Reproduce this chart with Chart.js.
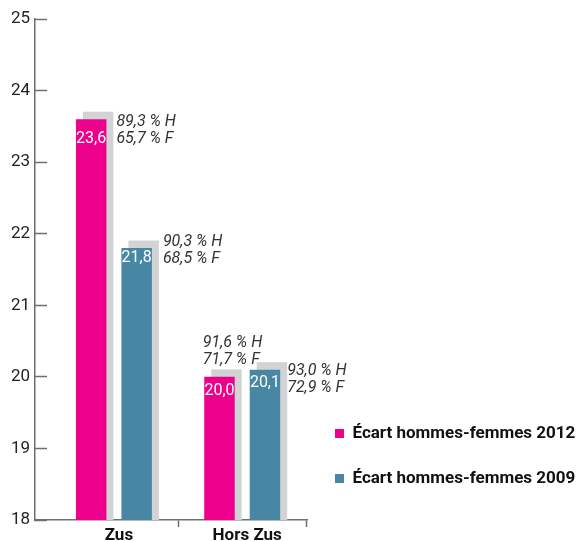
<!DOCTYPE html>
<html>
<head>
<meta charset="utf-8">
<script src="https://cdn.jsdelivr.net/npm/chart.js@4"></script>
<style>
  html, body { margin: 0; padding: 0; background: #fff; }
  #wrap { width: 577px; height: 541px; position: relative; }
</style>
</head>
<body>
<div id="wrap"><canvas id="c"></canvas></div>
<script>
// ---- data ----
const categories = ['Zus', 'Hors Zus'];
const seriesNames = ['Écart hommes-femmes 2012', 'Écart hommes-femmes 2009'];
const gap2012 = [23.6, 20.0];
const gap2009 = [21.8, 20.1];
const menRate2012 = [89.3, 91.6];
const womenRate2012 = [65.7, 71.7];
const menRate2009 = [90.3, 93.0];
const womenRate2009 = [68.5, 72.9];
const yTickValues = [18, 19, 20, 21, 22, 23, 24, 25];

// ---- styles ----
const PINK = '#EC008C';
const TEAL = '#4787A3';
const SHADOW = '#D1D3D4';
const AXIS = '#6D6E71';
const SH_DX = 7, SH_DY = 7.5;
// note placement: [dataset][category] = [dx from bar right edge, dy of first line baseline from bar top]
const noteOffset = [[[10, 7], [-32, -30]], [[11, -2], [7, 5]]];
const valueDy = [[24, 18], [14, 17]];

const fmt = v => v.toFixed(1).replace('.', ',');
const notes = [
  [menRate2012, womenRate2012],
  [menRate2009, womenRate2009]
];

Chart.defaults.font.family = 'Roboto, "Liberation Sans", sans-serif';

const shadowPlugin = {
  id: 'barShadow',
  beforeDatasetsDraw(chart) {
    const ctx = chart.ctx;
    const bottom = chart.chartArea.bottom;
    ctx.save();
    ctx.fillStyle = SHADOW;
    chart.data.datasets.forEach((ds, i) => {
      chart.getDatasetMeta(i).data.forEach(bar => {
        const p = bar.getProps(['x', 'y', 'base', 'width'], true);
        const base = Math.min(p.base, bottom);
        ctx.fillRect(p.x - p.width / 2 + SH_DX, p.y - SH_DY, p.width, base - p.y + SH_DY);
      });
    });
    ctx.restore();
  }
};

const labelPlugin = {
  id: 'barLabels',
  afterDatasetsDraw(chart) {
    const ctx = chart.ctx;
    ctx.save();
    chart.data.datasets.forEach((ds, i) => {
      chart.getDatasetMeta(i).data.forEach((bar, j) => {
        const p = bar.getProps(['x', 'y', 'width'], true);
        // value inside bar
        ctx.fillStyle = '#FFFFFF';
        ctx.font = '16px Roboto, sans-serif';
        ctx.textAlign = 'center';
        ctx.textBaseline = 'alphabetic';
        ctx.fillText(fmt(ds.data[j]), p.x, p.y + valueDy[i][j]);
        // H / F notes
        const [dx, dy] = noteOffset[i][j];
        const x = p.x + p.width / 2 + dx;
        ctx.fillStyle = '#333333';
        ctx.font = 'italic 16px Roboto, sans-serif';
        ctx.textAlign = 'left';
        ctx.fillText(fmt(notes[i][0][j]) + ' % H', x, p.y + dy);
        ctx.fillText(fmt(notes[i][1][j]) + ' % F', x, p.y + dy + 17);
      });
    });
    ctx.restore();
  }
};

const legendNudge = {
  id: 'legendNudge',
  afterLayout(chart) {
    if (chart.legend) { chart.legend.top -= 5; chart.legend.bottom -= 5; }
  }
};

new Chart(document.getElementById('c'), {
  type: 'bar',
  data: {
    labels: categories,
    datasets: [
      { label: seriesNames[0], data: gap2012, backgroundColor: PINK, categoryPercentage: 0.709, barPercentage: 0.67 },
      { label: seriesNames[1], data: gap2009, backgroundColor: TEAL, categoryPercentage: 0.709, barPercentage: 0.67 }
    ]
  },
  options: {
    responsive: true,
    maintainAspectRatio: false,
    animation: false,
    layout: { padding: { top: 19, right: 0, bottom: 0, left: 0 } },
    plugins: {
      tooltip: { enabled: false },
      legend: {
        position: 'right',
        align: 'end',
        fullSize: false,
        maxWidth: 270,
        labels: {
          boxWidth: 9,
          boxHeight: 9,
          padding: 28,
          color: '#111',
          font: { size: 17, weight: 'bold' }
        }
      }
    },
    scales: {
      x: {
        afterBuildTicks(s) { s._startValue = -0.615; s._valueRange = 2.12; },
        afterFit(s) { s.height = 21; },
        grid: {
          offset: true,
          drawOnChartArea: false,
          tickLength: 7,
          tickWidth: 1.5,
          tickColor: c => (c.index === 0 ? 'rgba(0,0,0,0)' : AXIS)
        },
        border: { color: AXIS, width: 1.5 },
        ticks: { color: '#111', padding: 0, labelOffset: 5, font: { size: 17, weight: 'bold', lineHeight: 1 } }
      },
      y: {
        min: 18,
        max: 25,
        afterBuildTicks(s) { s.ticks = yTickValues.map(v => ({ value: v })); },
        afterFit(s) { s.width = 35; s.paddingTop = 0; s.paddingBottom = 0; },
        grid: { drawOnChartArea: false, tickLength: -12, tickWidth: 1.5, tickColor: AXIS },
        border: { color: AXIS, width: 1.5 },
        ticks: { color: '#222', padding: 17, font: { size: 17 } }
      }
    }
  },
  plugins: [shadowPlugin, labelPlugin, legendNudge]
});
</script>
</body>
</html>
